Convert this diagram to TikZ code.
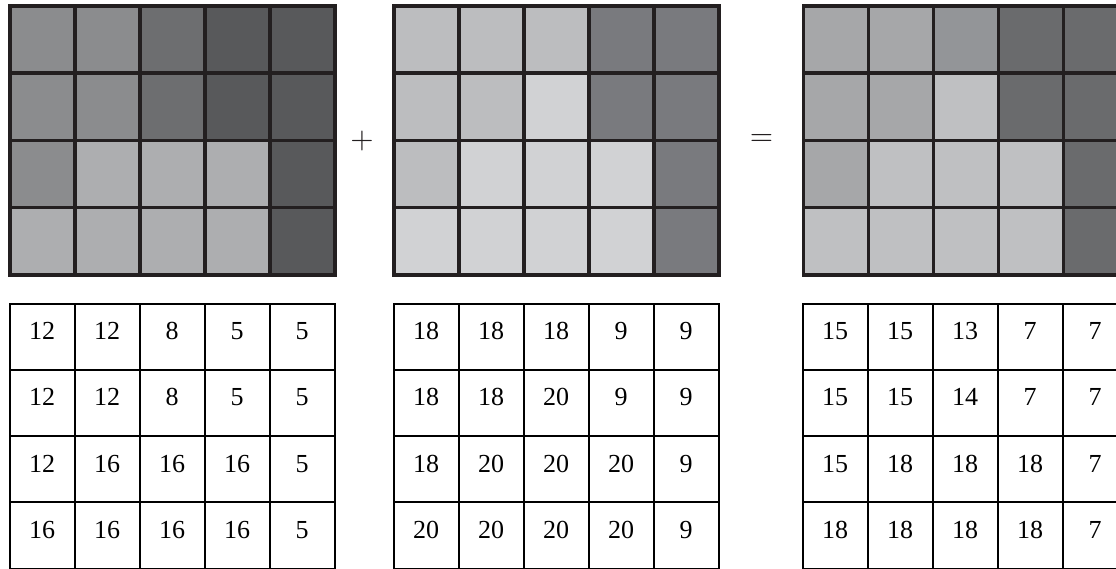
\documentclass[tikz,border=0pt]{standalone}
\usepackage{fontspec}
\usepackage{graphicx}
\setmainfont{Liberation Serif}
\usetikzlibrary{positioning}
\definecolor{gridLine}{HTML}{231f20}
% first grid
\definecolor{gA12}{HTML}{8b8c8e}
\definecolor{gA8}{HTML}{6d6e70}
\definecolor{gA5}{HTML}{58595b}
\definecolor{gA16}{HTML}{adaeb0}
% second grid
\definecolor{gB18}{HTML}{bcbdbf}
\definecolor{gB9}{HTML}{797a7e}
\definecolor{gB20}{HTML}{d1d2d4}
% sum grid
\definecolor{gC15}{HTML}{a6a7a9}
\definecolor{gC13}{HTML}{939598}
\definecolor{gC14}{HTML}{bfc0c2}
\definecolor{gC7}{HTML}{6a6b6d}
\definecolor{gC18}{HTML}{bfc0c2}

\begin{document}
\begin{tikzpicture}[x=1pt,y=-1pt,cell/.style={draw=gridLine, line width=3.5pt, minimum width=65pt, minimum height=67.25pt, inner sep=0pt, outer sep=0pt},num/.style={draw=black, line width=2pt, minimum width=65pt, minimum height=66.3pt, inner sep=0pt, outer sep=0pt, font=\fontsize{26}{26}\selectfont, text height=17pt, text depth=11pt},sign/.style={color=gridLine, inner sep=0pt}]
\clip (0,0) rectangle (1116,569);
\foreach \row [count=\r] in {{12,12,8,5,5},{12,12,8,5,5},{12,16,16,16,5},{16,16,16,16,5}} {
  \foreach \v [count=\c] in \row {
    \node[cell, fill=gA\v] (a-\r-\c) at ({10+65*(\c-0.5)}, {6+67.25*(\r-0.5)}) {};
    \node[num] (na-\r-\c) at ({9.5+65*(\c-0.5)}, {303.5+66.3*(\r-0.5)}) {\v};
  }
}
\foreach \row [count=\r] in {{18,18,18,9,9},{18,18,20,9,9},{18,20,20,20,9},{20,20,20,20,9}} {
  \foreach \v [count=\c] in \row {
    \node[cell, fill=gB\v] (b-\r-\c) at ({394+65*(\c-0.5)}, {6+67.25*(\r-0.5)}) {};
    \node[num] (nb-\r-\c) at ({393.5+65*(\c-0.5)}, {303.5+66.3*(\r-0.5)}) {\v};
  }
}
\foreach \row [count=\r] in {{15,15,13,7,7},{15,15,14,7,7},{15,18,18,18,7},{18,18,18,18,7}} {
  \foreach \v [count=\c] in \row {
    \node[cell, fill=gC\v] (c-\r-\c) at ({803.5+65*(\c-0.5)}, {6+67.25*(\r-0.5)}) {};
    \node[num] (nc-\r-\c) at ({802.5+65*(\c-0.5)}, {303.5+66.3*(\r-0.5)}) {\v};
  }
}
\node[sign] (plus) at (362,141.5) {\scalebox{3}{$+$}};
\node[sign] (equals) at (761.5,139.5) {\scalebox{3}{$=$}};
\end{tikzpicture}
\end{document}
